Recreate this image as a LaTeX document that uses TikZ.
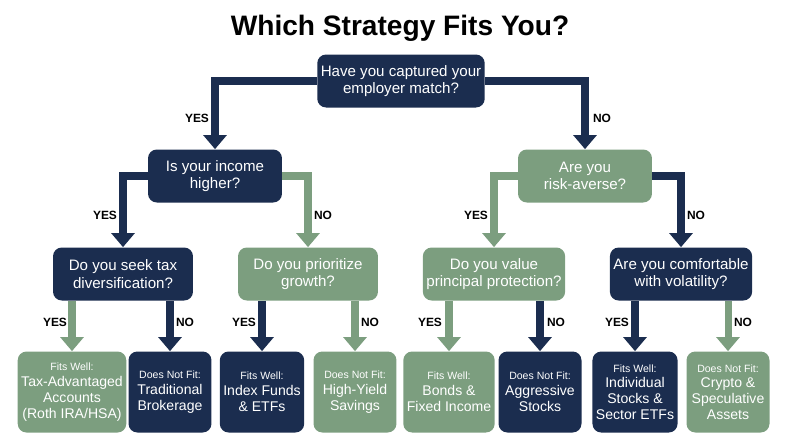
\documentclass[tikz,border=0pt]{standalone}
\usepackage{fontspec}
\setmainfont{Liberation Sans}
\usetikzlibrary{arrows.meta,positioning}
\definecolor{Navy}{RGB}{27, 45, 79}
\definecolor{Sage}{RGB}{124, 158, 127}

\tikzset{
    box/.style={rounded corners=5pt, text=white, align=center, inner sep=2pt,
        font=\fontsize{8.6}{10}\selectfont},
    question/.style={box, minimum width=2.8cm, minimum height=1.06cm},
    leaf/.style={box, minimum width=1.66cm, minimum height=1.62cm, font=\fontsize{8}{9}\selectfont},
    flow/.style={line width=4pt, -{Triangle[width=13pt,length=8pt]}},
    ans/.style={font=\bfseries\fontsize{6.8}{7}\selectfont},
}
\newcommand{\leaftext}[2]{{\fontsize{6}{7.5}\selectfont #1}\\#2}

\begin{document}
\begin{tikzpicture}[x=0.02cm, y=-0.02cm]
    %% Background
    \useasboundingbox (0,0) rectangle (800,447);

    \node[font=\bfseries\fontsize{16}{18}\selectfont] (title) at (400,28) {Which Strategy Fits You?};

    %% Questions
    \node[question, fill=Navy, minimum width=3.32cm] (root) at (401,81) {Have you captured your\\employer match?};
    \node[question, fill=Navy, minimum width=2.68cm] (income) at (215,176) {Is your income\\higher?};
    \node[question, fill=Sage, minimum width=2.68cm] (risk) at (585,176) {Are you\\risk-averse?};
    \node[question, fill=Navy] (tax) at (123,274) {Do you seek tax\\diversification?};
    \node[question, fill=Sage] (growth) at (308,274) {Do you prioritize\\growth?};
    \node[question, fill=Sage] (protect) at (494,274) {Do you value\\principal protection?};
    \node[question, fill=Navy] (vol) at (681,274) {Are you comfortable\\with volatility?};

    %% Outcomes
    \node[leaf, fill=Sage, minimum width=2cm] (taxadv) at (72,392) {\leaftext{Fits Well:}{Tax-Advantaged\\Accounts\\(Roth IRA/HSA)}};
    \node[leaf, fill=Navy] (broker) at (170,392) {\leaftext{Does Not Fit:}{Traditional\\Brokerage}};
    \node[leaf, fill=Navy] (index) at (262,392) {\leaftext{Fits Well:}{Index Funds\\\& ETFs}};
    \node[leaf, fill=Sage] (savings) at (355,392) {\leaftext{Does Not Fit:}{High-Yield\\Savings}};
    \node[leaf, fill=Sage] (bonds) at (449,392) {\leaftext{Fits Well:}{Bonds \&\\Fixed Income}};
    \node[leaf, fill=Navy] (aggr) at (540,392) {\leaftext{Does Not Fit:}{Aggressive\\Stocks}};
    \node[leaf, fill=Navy] (stocks) at (635,392) {\leaftext{Fits Well:}{Individual\\Stocks \&\\Sector ETFs}};
    \node[leaf, fill=Sage] (crypto) at (728,392) {\leaftext{Does Not Fit:}{Crypto \&\\Speculative\\Assets}};

    %% Connectors
    \draw[flow, Navy] (root.west) -| (income.north);
    \draw[flow, Navy] (root.east) -| (risk.north);
    \draw[flow, Navy] (income.west) -| (tax.north);
    \draw[flow, Sage] (income.east) -| (growth.north);
    \draw[flow, Sage] (risk.west) -| (protect.north);
    \draw[flow, Navy] (risk.east) -| (vol.north);
    \draw[flow, Sage] (tax.south -| taxadv.north) -- (taxadv.north);
    \draw[flow, Navy] (tax.south -| broker.north) -- (broker.north);
    \draw[flow, Navy] (growth.south -| index.north) -- (index.north);
    \draw[flow, Sage] (growth.south -| savings.north) -- (savings.north);
    \draw[flow, Sage] (protect.south -| bonds.north) -- (bonds.north);
    \draw[flow, Navy] (protect.south -| aggr.north) -- (aggr.north);
    \draw[flow, Navy] (vol.south -| stocks.north) -- (stocks.north);
    \draw[flow, Sage] (vol.south -| crypto.north) -- (crypto.north);

    %% Answers
    \node[ans] (a1) at (197,118) {YES};
    \node[ans] (a2) at (602,118) {NO};
    \node[ans] (a3) at (105,215) {YES};
    \node[ans] (a4) at (323,215) {NO};
    \node[ans] (a5) at (476,215) {YES};
    \node[ans] (a6) at (696,215) {NO};
    \node[ans] (a7) at (55,322) {YES};
    \node[ans] (a8) at (185,322) {NO};
    \node[ans] (a9) at (244,322) {YES};
    \node[ans] (a10) at (370,322) {NO};
    \node[ans] (a11) at (430,322) {YES};
    \node[ans] (a12) at (556,322) {NO};
    \node[ans] (a13) at (617,322) {YES};
    \node[ans] (a14) at (743,322) {NO};
\end{tikzpicture}
\end{document}
